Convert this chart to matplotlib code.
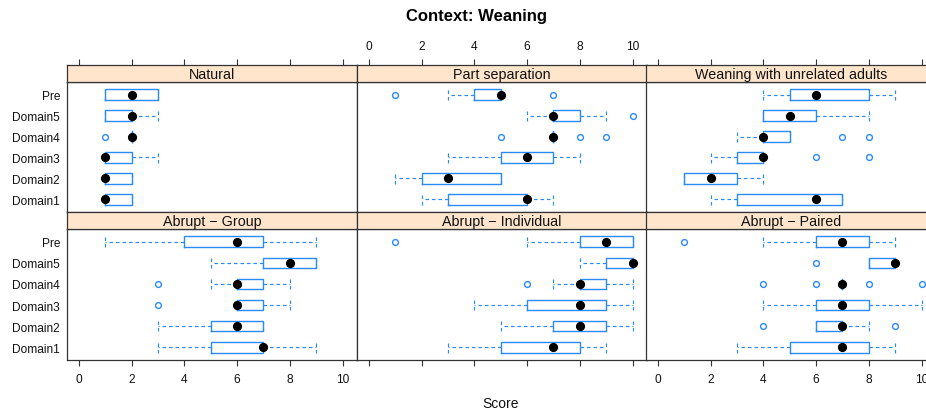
import matplotlib
matplotlib.use("Agg")
import matplotlib.pyplot as plt

plt.rcParams['font.family'] = ['Liberation Sans', 'DejaVu Sans']

# levels from top to bottom
levels = ["Pre", "Domain5", "Domain4", "Domain3", "Domain2", "Domain1"]
panel_titles = ["Natural", "Part separation", "Weaning with unrelated adults",
                "Abrupt \u2212 Group", "Abrupt \u2212 Individual", "Abrupt \u2212 Paired"]

# each row: whisker low, q1, median, q3, whisker high  (Pre .. Domain1)
natural_stats = [[1, 1, 2, 3, 3], [1, 1, 2, 2, 3], [2, 2, 2, 2, 2],
                 [1, 1, 1, 2, 3], [1, 1, 1, 2, 2], [1, 1, 1, 2, 2]]
natural_out = [[], [], [1], [], [], []]

partsep_stats = [[3, 4, 5, 5, 5], [6, 7, 7, 8, 9], [7, 7, 7, 7, 7],
                 [3, 5, 6, 7, 8], [1, 2, 3, 5, 5], [2, 3, 6, 6, 7]]
partsep_out = [[1, 7], [10], [5, 8, 9], [], [], []]

unrelated_stats = [[4, 5, 6, 8, 9], [4, 4, 5, 6, 8], [3, 4, 4, 5, 5],
                   [2, 3, 4, 4, 4], [1, 1, 2, 3, 4], [2, 3, 6, 7, 7]]
unrelated_out = [[], [], [7, 8], [6, 8], [], []]

group_stats = [[1, 4, 6, 7, 9], [5, 7, 8, 9, 9], [5, 6, 6, 7, 8],
               [6, 6, 6, 7, 8], [3, 5, 6, 7, 7], [3, 5, 7, 7, 9]]
group_out = [[], [], [3], [3], [], []]

individual_stats = [[6, 8, 9, 10, 10], [8, 9, 10, 10, 10], [7, 8, 8, 9, 10],
                    [4, 6, 8, 9, 10], [5, 7, 8, 9, 10], [3, 5, 7, 8, 9]]
individual_out = [[1], [], [6], [], [], []]

paired_stats = [[4, 6, 7, 8, 9], [8, 8, 9, 9, 9], [7, 7, 7, 7, 7],
                [4, 6, 7, 8, 10], [6, 6, 7, 7, 8], [3, 5, 7, 8, 9]]
paired_out = [[1], [6], [4, 6, 8, 10], [], [4, 9], []]

all_stats = [natural_stats, partsep_stats, unrelated_stats,
             group_stats, individual_stats, paired_stats]
all_out = [natural_out, partsep_out, unrelated_out,
           group_out, individual_out, paired_out]

xticks = [0, 2, 4, 6, 8, 10]

W, H = 926, 414
fig = plt.figure(figsize=(W / 100, H / 100), dpi=100)

blue = "#2a8af7"
strip_col = "#ffe5cc"
col_x = [67, 357, 646]
col_w = 290
rows = [(66, 83, 213), (213, 230, 361)]  # strip top, data top, data bottom


def fx(px):
    return px / W


def fy(py):
    return 1 - py / H


for idx in range(6):
    r, c = divmod(idx, 3)
    st_top, d_top, d_bot = rows[r]
    x0 = col_x[c]
    ax = fig.add_axes([fx(x0), fy(d_bot), col_w / W, (d_bot - d_top) / H])
    sax = fig.add_axes([fx(x0), fy(d_top), col_w / W, (d_top - st_top) / H])

    stats = all_stats[idx]
    outs = all_out[idx]
    n = len(levels)
    positions = [n - i for i in range(n)]
    bxp_data = []
    for s, o in zip(stats, outs):
        bxp_data.append(dict(whislo=s[0], q1=s[1], med=s[2], q3=s[3],
                             whishi=s[4], fliers=o))
    ax.bxp(bxp_data, positions=positions, orientation='horizontal',
           widths=0.5, capwidths=0.5, patch_artist=False,
           boxprops=dict(color=blue, lw=1.0),
           whiskerprops=dict(color=blue, lw=0.85, ls=(0, (3, 2.5))),
           capprops=dict(color=blue, lw=0.85, ls=(0, (3, 2.5))),
           medianprops=dict(lw=0),
           flierprops=dict(marker='o', mfc='none', mec=blue, ms=4.2, mew=1.0))
    meds = [s[2] for s in stats]
    ax.plot(meds, positions, 'o', color='black', ms=5.6, zorder=5)

    ax.set_xlim(-0.45, 10.55)
    ax.set_ylim(0.4, 6.6)
    sax.set_xlim(-0.45, 10.55)
    sax.set_ylim(0, 1)
    sax.set_facecolor(strip_col)
    sax.set_yticks([])
    sax.text(0.5, 0.45, panel_titles[idx], transform=sax.transAxes,
             ha='center', va='center', fontsize=10.3, color='#111111')

    for a in (ax, sax):
        for sp in a.spines.values():
            sp.set_color('#333333')
            sp.set_linewidth(0.9)

    # y axis
    if c == 0:
        ax.set_yticks(positions)
        ax.set_yticklabels(levels, fontsize=8.6, color='#111111')
        ax.tick_params(axis='y', length=0, pad=5)
    else:
        ax.set_yticks([])

    # x axis
    if r == 0:
        ax.set_xticks([])
        sax.set_xticks(xticks)
        sax.xaxis.set_ticks_position('top')
        sax.tick_params(axis='x', direction='out', length=4.5, width=0.8,
                        color='#333333', pad=5, labelsize=8.6,
                        labelcolor='#111111')
        if c == 1:
            sax.set_xticklabels([str(t) for t in xticks])
        else:
            sax.set_xticklabels([])
    else:
        sax.set_xticks([])
        ax.set_xticks(xticks)
        ax.tick_params(axis='x', direction='out', length=4.5, width=0.8,
                       color='#333333', pad=5, labelsize=8.6,
                       labelcolor='#111111')
        if c == 1:
            ax.set_xticklabels([])
        else:
            ax.set_xticklabels([str(t) for t in xticks])

fig.text(fx(477), fy(17), "Context: Weaning", ha='center', va='center',
         fontsize=12, fontweight='bold')
fig.text(fx(501), fy(404), "Score", ha='center', va='center', fontsize=10,
         color='#111111')

fig.savefig("out.png", dpi=100)
